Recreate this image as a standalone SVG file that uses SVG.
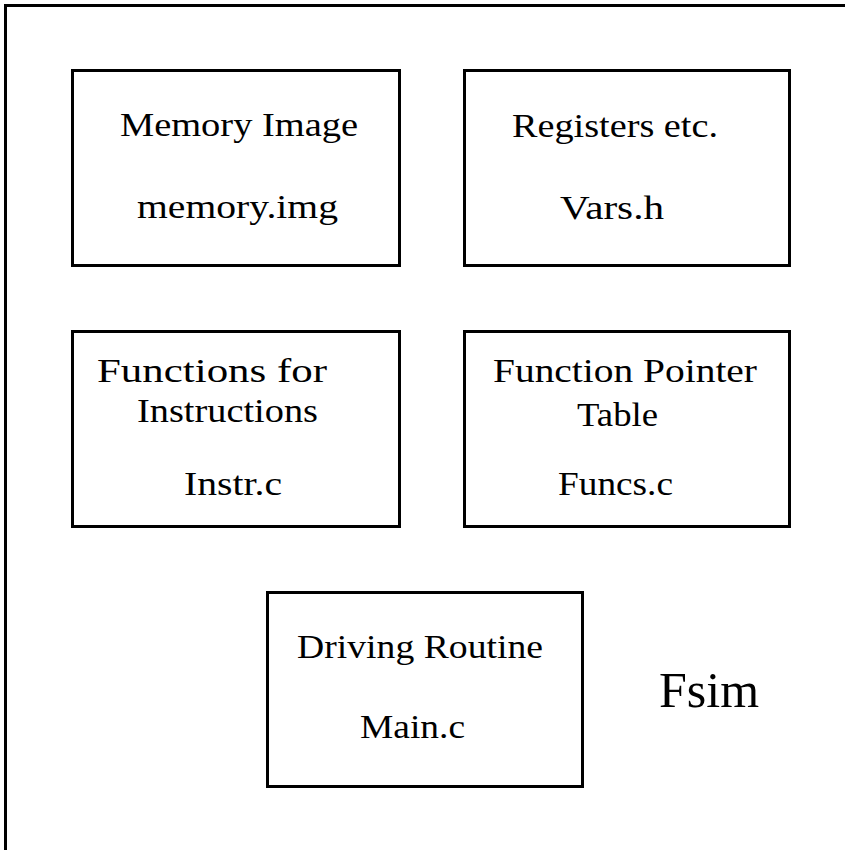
<svg xmlns="http://www.w3.org/2000/svg" width="845" height="850" viewBox="0 0 845 850">
<style>
.box{fill:#fff;stroke:#000;stroke-width:3}
.t{font-family:"Liberation Serif","Times New Roman",serif;font-size:33px;fill:#000}
.big{font-family:"Liberation Serif","Times New Roman",serif;font-size:50px;fill:#000}
</style>
<rect width="845" height="850" fill="#fff"/>
<path d="M5.5 850 V5.5 H845" fill="none" stroke="#000" stroke-width="3"/>
<g id="memory">
<rect class="box" x="72.5" y="70.5" width="327" height="195"/>
<text class="t" x="120" y="136" textLength="238" lengthAdjust="spacingAndGlyphs">Memory Image</text>
<text class="t" x="137" y="218" textLength="201" lengthAdjust="spacingAndGlyphs">memory.img</text>
</g>
<g id="registers">
<rect class="box" x="464.5" y="70.5" width="325" height="195"/>
<text class="t" x="512" y="137" textLength="206" lengthAdjust="spacingAndGlyphs">Registers etc.</text>
<text class="t" x="560" y="219" textLength="104" lengthAdjust="spacingAndGlyphs">Vars.h</text>
</g>
<g id="instr">
<rect class="box" x="72.5" y="331.5" width="327" height="195"/>
<text class="t" x="97" y="382" textLength="230" lengthAdjust="spacingAndGlyphs">Functions for</text>
<text class="t" x="137" y="422" textLength="181" lengthAdjust="spacingAndGlyphs">Instructions</text>
<text class="t" x="184" y="495" textLength="98" lengthAdjust="spacingAndGlyphs">Instr.c</text>
</g>
<g id="funcs">
<rect class="box" x="464.5" y="331.5" width="325" height="195"/>
<text class="t" x="493" y="382" textLength="264" lengthAdjust="spacingAndGlyphs">Function Pointer</text>
<text class="t" x="577" y="426" textLength="81" lengthAdjust="spacingAndGlyphs">Table</text>
<text class="t" x="558" y="495" textLength="115" lengthAdjust="spacingAndGlyphs">Funcs.c</text>
</g>
<g id="main">
<rect class="box" x="267.5" y="592.5" width="315" height="194"/>
<text class="t" x="297" y="658" textLength="246" lengthAdjust="spacingAndGlyphs">Driving Routine</text>
<text class="t" x="360" y="738" textLength="105" lengthAdjust="spacingAndGlyphs">Main.c</text>
</g>
<g id="connectors"></g>
<text class="big" x="659" y="707">Fsim</text>
</svg>
